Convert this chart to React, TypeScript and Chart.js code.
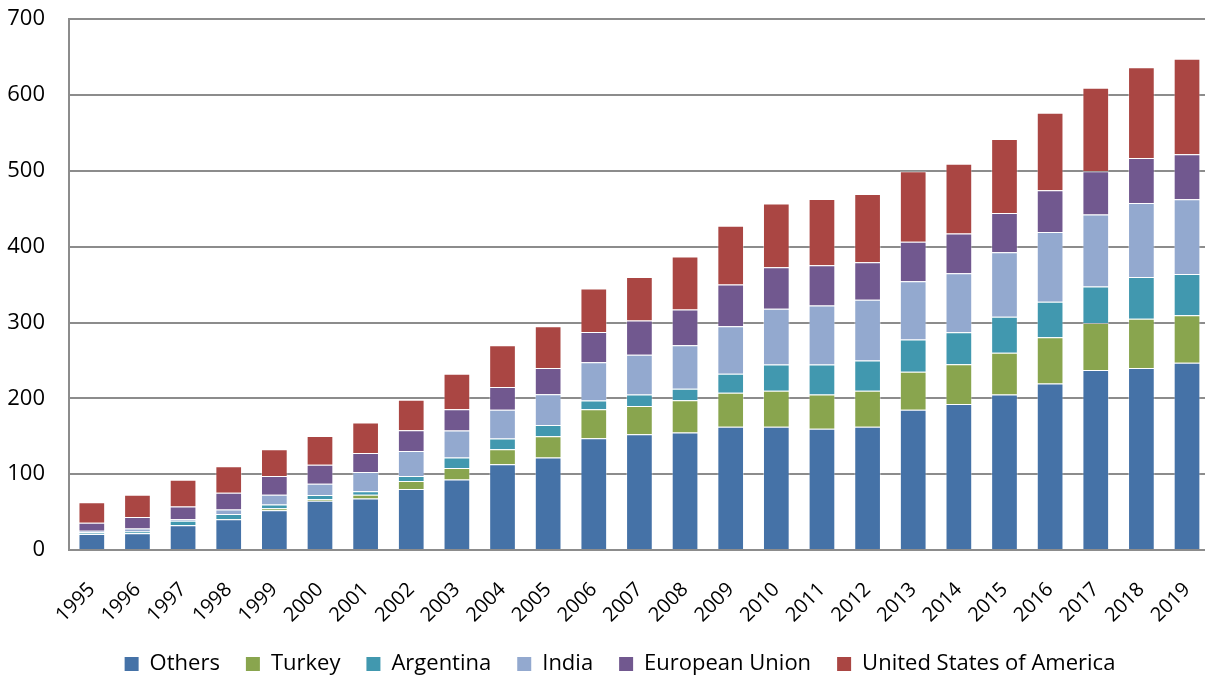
import React, { useEffect, useRef } from "react";
import { Chart, registerables } from "chart.js";

Chart.register(...registerables);

const years = [
  "1995", "1996", "1997", "1998", "1999", "2000", "2001", "2002", "2003", "2004",
  "2005", "2006", "2007", "2008", "2009", "2010", "2011", "2012", "2013", "2014",
  "2015", "2016", "2017", "2018", "2019",
];

const others = [21, 22, 32.5, 40.5, 52.5, 65, 68, 80.5, 93, 113, 122, 147.5, 152.5, 155, 162.5, 162.5, 160, 162.5, 185, 192.5, 205, 219.5, 237.5, 240, 247];
const turkey = [0.5, 0.5, 0.5, 0.5, 2.5, 2, 5, 10.5, 15, 20, 28, 38, 37.5, 42.5, 45, 47.5, 45, 47.5, 50, 52.5, 55, 61, 62, 65, 62.5];
const argentina = [2, 2, 5.5, 6.5, 5, 5.5, 4.5, 6.5, 14, 14, 15, 11.5, 15, 15, 25, 34.5, 39.5, 40, 42.5, 42, 47.5, 47, 48, 55, 54.5];
const india = [2, 4, 2, 6, 13, 15, 25.5, 33, 35.5, 38, 40.5, 50.5, 52.5, 57.5, 62.5, 73.5, 78, 80, 77, 78, 85, 92, 95, 97.5, 98.5];
const europeanUnion = [10.5, 15, 17, 22, 24.5, 25, 25, 27.5, 28, 30, 34.5, 40, 45, 47, 55, 55, 53, 49.5, 52, 52.5, 52, 55, 57, 59.5, 59.5];
const usa = [27, 29.5, 35, 35, 35.5, 38, 40, 40, 47, 55, 55, 57.5, 57.5, 70, 77.5, 84, 87.5, 90, 93, 92, 97.5, 102, 110, 119.5, 126];

const seriesNames = ["Others", "Turkey", "Argentina", "India", "European Union", "United States of America"];
const seriesColors = ["#4572A7", "#89A54E", "#4198AF", "#93A9CF", "#71588F", "#AA4643"];
const seriesData = [others, turkey, argentina, india, europeanUnion, usa];

const yMin = 0;
const yMax = 700;
const yStep = 100;

const FONT = "'Open Sans', 'DejaVu Sans', sans-serif";
const GRID = "#8c8c8c";

const legendShift = {
  id: "legendShift",
  afterLayout(chart: any) {
    if (chart.legend) {
      chart.legend.left += 4;
      chart.legend.right += 4;
    }
  },
};

export default function App() {
  const ref = useRef<HTMLCanvasElement | null>(null);

  useEffect(() => {
    if (!ref.current) return;
    const chart = new Chart(ref.current, {
      type: "bar",
      data: {
        labels: years,
        datasets: seriesData.map((d, i) => ({
          label: seriesNames[i],
          data: d,
          backgroundColor: seriesColors[i],
          borderColor: "rgba(255,255,255,0.35)",
          borderWidth: 1,
          categoryPercentage: 1,
          barPercentage: 0.585,
        })),
      },
      options: {
        responsive: false,
        animation: false,
        events: [],
        layout: { padding: { top: 0, right: 0, left: 0, bottom: 0 } },
        plugins: {
          tooltip: { enabled: false },
          legend: {
            position: "bottom",
            align: "center",
            labels: {
              boxWidth: 14,
              boxHeight: 14,
              padding: 26,
              color: "#000",
              font: { family: FONT, size: 22 },
              generateLabels: (c: any) =>
                c.data.datasets.map((ds: any, i: number) => ({
                  text: ds.label,
                  fillStyle: ds.backgroundColor,
                  strokeStyle: ds.backgroundColor,
                  lineWidth: 0,
                  hidden: false,
                  datasetIndex: i,
                })),
            },
          },
        },
        scales: {
          x: {
            stacked: true,
            grid: { display: false, drawTicks: false },
            border: { display: true, color: GRID, width: 2 },
            ticks: {
              color: "#000",
              font: { family: FONT, size: 20 },
              maxRotation: 45,
              minRotation: 45,
              padding: 28,
              autoSkip: false,
            },
            afterFit: (s: any) => {
              s.height = 77;
            },
          },
          y: {
            stacked: true,
            min: yMin,
            max: yMax,
            grid: { color: GRID, lineWidth: 2, drawTicks: false },
            border: { display: true, color: GRID, width: 2 },
            ticks: {
              stepSize: yStep,
              color: "#000",
              font: { family: FONT, size: 22 },
              padding: 24,
            },
            afterFit: (s: any) => {
              s.width = 69;
            },
          },
        },
      },
      plugins: [legendShift],
    });
    return () => chart.destroy();
  }, []);

  return (
    <div
      style={{
        position: "absolute",
        left: 0,
        top: 0,
        width: 1205,
        height: 675,
        overflow: "hidden",
        background: "#fff",
      }}
    >
      <canvas
        ref={ref}
        width={1232}
        height={703}
        style={{ width: 1232, height: 703, display: "block", marginTop: -18 }}
      />
    </div>
  );
}
